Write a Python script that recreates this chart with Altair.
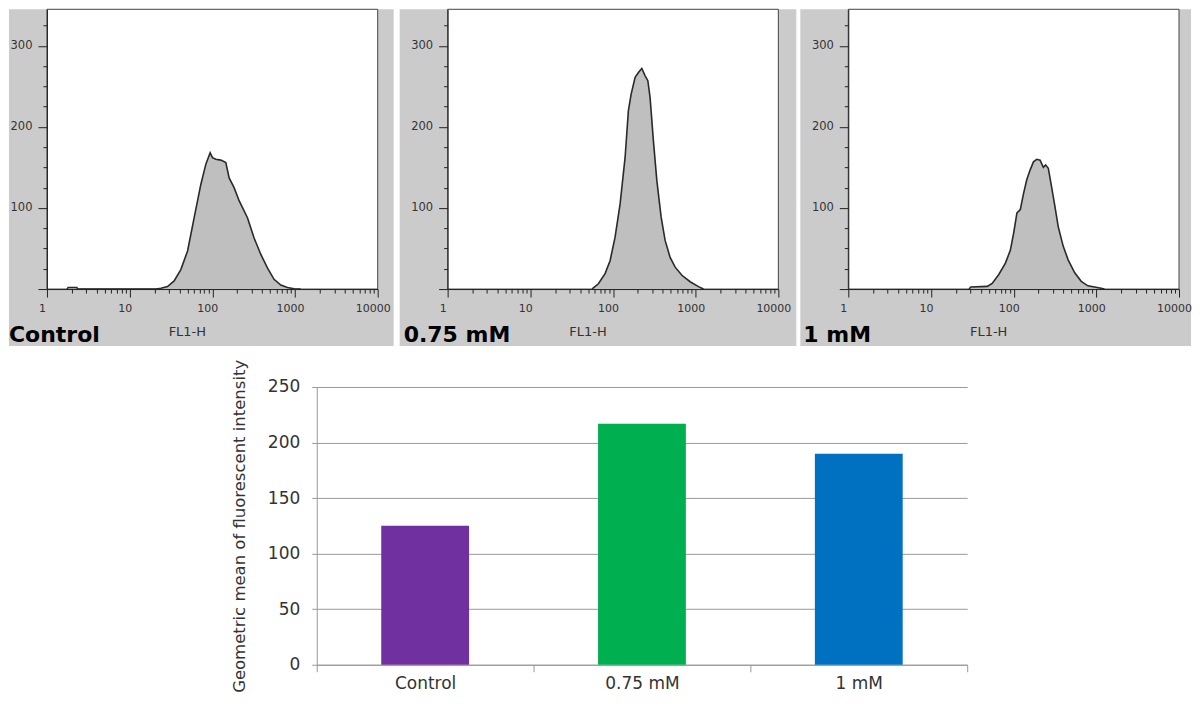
import altair as alt
import pandas as pd

# ---------------- data ----------------
PANELS = ["Control", "0.75 mM", "1 mM"]

CTRL_FL1 = [1.75, 1.8, 2.3, 2.35, 20.8, 23.9, 28.7, 34.5, 41.6, 50.2, 60.3, 72.6, 83.5, 94.1,
            100.5, 110, 126.7, 145.6, 159.7, 183.4, 210.8, 266, 320, 385, 464, 558, 673, 811, 974, 1170]
CTRL_COUNT = [0, 2, 2, 0, 0, 1, 3, 10, 24, 47, 88, 129, 154, 168,
              162, 160, 159, 156, 137, 125, 109, 88, 63, 43, 26, 12, 5, 2, 0.4, 0]

MM075_FL1 = [56, 57.9, 66.6, 80.2, 92.2, 106, 121.9, 140, 153.6, 165.6, 185.2, 203, 223, 245,
             264, 281, 308, 339, 382, 427, 491, 565, 681, 858, 1081, 1243]
MM075_COUNT = [0, 1.5, 6.5, 19, 35, 64, 105, 162, 220, 240, 261, 267, 272, 263,
               257, 236, 183, 134, 89, 60, 39, 27, 17, 9, 3, 0]

MM1_FL1 = [28.9, 30.3, 47.9, 55, 66.1, 79.5, 91.3, 100, 109.6, 120.3, 131.8, 144.3, 158.5, 173.7,
           190.2, 208.9, 228.7, 243.6, 262.5, 287.6, 315.6, 345.9, 397, 456, 548, 657, 791, 951, 1141, 1254]
MM1_COUNT = [0, 2.5, 3.3, 7, 18, 32, 48, 69, 94, 98, 118, 135, 147, 157,
             160, 159, 150, 153, 149, 126, 102, 77, 53, 36, 20, 9.5, 4, 2.5, 1, 0]

X_MAJOR = [1, 10, 100, 1000, 10000]
X_MINOR = [m * d for d in [1, 10, 100, 1000] for m in range(2, 10)]
Y_MAJOR = [0, 100, 200, 300]
Y_MINOR = [25, 50, 75, 125, 150, 175, 225, 250, 275, 325]

BAR_CATEGORIES = ["Control", "0.75 mM", "1 mM"]
BAR_VALUES = [125, 217, 190]
BAR_COLORS = ["#7030A0", "#00B050", "#0070C0"]
BAR_TICKS = [0, 50, 100, 150, 200, 250]

# ---------------- style ----------------
FONT = "DejaVu Sans"
PANEL_GREY = "#cbcbcb"
HIST_FILL = "#bfbfbf"
W, H = 331, 280
BW, BH = 651, 278


def panel(label, fl1, counts, grey_left, grey_right, label_x):
    df = pd.DataFrame({"fl1": fl1, "count": counts})
    xs = alt.Scale(type="log", domain=[1, 10000], nice=False)
    ys = alt.Scale(domain=[0, 345], nice=False)
    base = alt.Chart(df)
    one = alt.Chart(pd.DataFrame({"label": [label]}))

    major_x = alt.Axis(values=X_MAJOR, format="d", orient="bottom", tickSize=8, tickColor="#222",
                       domainColor="#222", labelFont=FONT, labelFontSize=11, labelColor="#333",
                       labelPadding=5, labelOffset=-5, labelFlush=False, labelOverlap=False, grid=False,
                       title="FL1-H", titleX=140, titleY=42, titleFont=FONT, titleFontSize=13,
                       titleFontWeight="normal", titleColor="#333", titleAlign="center",
                       titleBaseline="middle", zindex=1)
    major_y = alt.Axis(values=Y_MAJOR, orient="left", tickSize=9, tickColor="#222", domainColor="#222",
                       labelExpr="datum.value == 0 ? '' : datum.label", labelFont=FONT,
                       labelFontSize=11.5, labelColor="#333", labelPadding=6, labelFlush=False,
                       labelOverlap=False, grid=False, title=None, zindex=1)
    minor_x = alt.Axis(values=X_MINOR, orient="bottom", tickSize=4, tickColor="#222", labels=False,
                       domain=False, grid=False, title=None, zindex=1)
    minor_y = alt.Axis(values=Y_MINOR, orient="left", tickSize=4, tickColor="#222", labels=False,
                       domain=False, grid=False, title=None, zindex=1)

    grey = one.mark_rect(color=PANEL_GREY).encode(
        x=alt.value(grey_left), x2=alt.value(W + grey_right), y=alt.value(0), y2=alt.value(H + 57))
    white = one.mark_rect(fill="white", stroke="#444", strokeWidth=1).encode(
        x=alt.value(0), x2=alt.value(W), y=alt.value(0), y2=alt.value(H))
    area = base.mark_area(color=HIST_FILL, interpolate="linear").encode(
        x=alt.X("fl1:Q", scale=xs, axis=major_x),
        y=alt.Y("count:Q", scale=ys, axis=major_y))
    line = base.mark_line(color="#2a2a2a", strokeWidth=1.6).encode(
        x=alt.X("fl1:Q", scale=xs, axis=None),
        y=alt.Y("count:Q", scale=ys, axis=None))
    minor = base.mark_line(opacity=0).encode(
        x=alt.X("fl1:Q", scale=xs, axis=minor_x),
        y=alt.Y("count:Q", scale=ys, axis=minor_y))
    text = one.mark_text(align="left", baseline="alphabetic", font=FONT, fontWeight="bold",
                         fontSize=22, color="black").encode(
        x=alt.value(label_x), y=alt.value(H + 53), text="label:N")

    return alt.layer(grey, white, area, line, minor, text).properties(
        width=W, height=H).resolve_axis(x="independent", y="independent")


p1 = panel(PANELS[0], CTRL_FL1, CTRL_COUNT, -38, 16, -38)
p2 = panel(PANELS[1], MM075_FL1, MM075_COUNT, -48, 18, -44)
p3 = panel(PANELS[2], MM1_FL1, MM1_COUNT, -48, 12, -45)

top = alt.hconcat(p1, p2, p3, spacing=70, bounds="flush")

bar_df = pd.DataFrame({"condition": BAR_CATEGORIES, "value": BAR_VALUES})
bars = alt.Chart(bar_df).mark_bar(width=alt.RelativeBandSize(0.405)).encode(
    x=alt.X("condition:N", sort=BAR_CATEGORIES,
            scale=alt.Scale(paddingInner=0, paddingOuter=0),
            axis=alt.Axis(title=None, tickBand="extent", tickSize=7, tickColor="#999",
                          domainColor="#999", labelAngle=0, labelFont=FONT, labelFontSize=17,
                          labelColor="#333", labelPadding=4, grid=False)),
    y=alt.Y("value:Q", scale=alt.Scale(domain=[0, 250], nice=False),
            axis=alt.Axis(values=BAR_TICKS, title="Geometric mean of fluorescent intensity",
                          titleFont=FONT, titleFontSize=16.5, titleFontWeight="normal",
                          titleColor="#333", titlePadding=20, grid=True, gridColor="#999",
                          domainColor="#999", tickColor="#999", tickSize=5, labelFont=FONT,
                          labelFontSize=17, labelColor="#333", labelPadding=12)),
    color=alt.Color("condition:N", scale=alt.Scale(domain=BAR_CATEGORIES, range=BAR_COLORS),
                    legend=None),
)
# invisible anchor fixing the vertical gap between the two rows
anchor = alt.Chart(pd.DataFrame({"a": [0]})).mark_rect(opacity=0).encode(
    x=alt.value(0), x2=alt.value(1), y=alt.value(-39), y2=alt.value(0))
bar_chart = alt.layer(anchor, bars).properties(width=BW, height=BH)

# invisible spacer shifting the bar chart to the right
spacer = alt.Chart(pd.DataFrame({"s": [0]})).mark_point(opacity=0).properties(width=200, height=1)
bottom = alt.hconcat(spacer, bar_chart, spacing=70, bounds="flush")

chart = alt.vconcat(top, bottom, spacing=0).properties(
    padding=0, background="white").configure_view(stroke="transparent")

chart.save("out.html", embed_options={"renderer": "svg", "actions": False})
